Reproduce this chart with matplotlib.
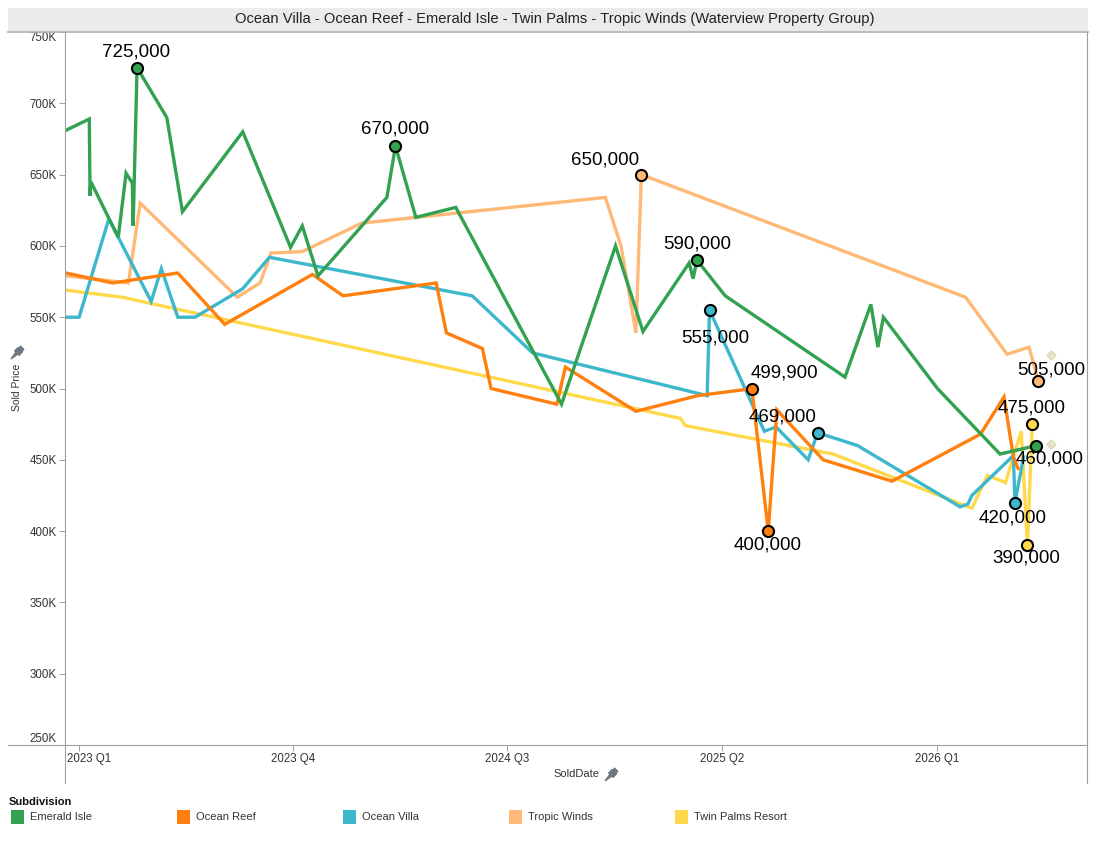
import matplotlib
matplotlib.use("Agg")
import matplotlib.pyplot as plt
import matplotlib.transforms as mtransforms
import pandas as pd
from matplotlib.patches import Rectangle
from matplotlib.lines import Line2D
from matplotlib.path import Path

plt.rcParams['font.family'] = ['Liberation Sans', 'DejaVu Sans']

# ---- data ----
subdivisions = ["Emerald Isle", "Ocean Reef", "Ocean Villa", "Tropic Winds", "Twin Palms Resort"]
colors = ["#32a251", "#ff7f0f", "#3cb7cc", "#ffb977", "#ffd94a"]

emerald_dates = ["2022-12-15", "2023-01-14", "2023-01-15", "2023-01-16", "2023-02-20", "2023-03-02",
                 "2023-03-10", "2023-03-11", "2023-03-16", "2023-04-23", "2023-05-13", "2023-07-29",
                 "2023-09-28", "2023-10-13", "2023-11-02", "2024-01-29", "2024-02-09", "2024-03-06",
                 "2024-04-26", "2024-09-08", "2024-11-16", "2024-12-21", "2025-02-18", "2025-02-23",
                 "2025-02-28", "2025-04-05", "2025-09-05", "2025-10-08", "2025-10-17", "2025-10-24",
                 "2026-01-01", "2026-03-22", "2026-05-07"]
emerald_prices = [681000, 689000, 635000, 645000, 606000, 651000,
                  644000, 614000, 725000, 690000, 624000, 680000,
                  599000, 614000, 579000, 634000, 670000, 620000,
                  627000, 489000, 600000, 540000, 588000, 577000,
                  590000, 565000, 508000, 559000, 529000, 550000,
                  500000, 454000, 460000]

reef_dates = ["2022-12-15", "2023-02-13", "2023-05-07", "2023-07-06", "2023-10-26", "2023-12-04",
              "2024-04-01", "2024-04-14", "2024-05-30", "2024-06-10", "2024-09-02", "2024-09-13",
              "2024-12-12", "2025-03-01", "2025-05-09", "2025-05-30", "2025-06-10", "2025-08-08",
              "2025-11-04", "2026-02-25", "2026-03-27", "2026-04-08", "2026-04-14"]
reef_prices = [581000, 574000, 581000, 545000, 580000, 565000,
               574000, 539000, 528000, 500000, 489000, 515000,
               484000, 495000, 499900, 400000, 485000, 450000,
               435000, 468000, 494000, 452000, 444000]

villa_dates = ["2022-12-15", "2023-01-01", "2023-02-08", "2023-04-03", "2023-04-16", "2023-05-07",
               "2023-05-29", "2023-07-29", "2023-09-01", "2024-05-17", "2024-08-02", "2025-03-13",
               "2025-03-16", "2025-05-25", "2025-06-09", "2025-07-20", "2025-08-01", "2025-09-21",
               "2026-01-30", "2026-02-09", "2026-02-14", "2026-04-08", "2026-04-10", "2026-04-21"]
villa_prices = [550000, 550000, 619000, 561000, 584000, 550000,
                550000, 570000, 592000, 565000, 525000, 495000,
                555000, 470000, 473000, 450000, 469000, 460000,
                417000, 419000, 425000, 453000, 420000, 452000]

winds_dates = ["2022-12-15", "2023-03-05", "2023-03-20", "2023-07-22", "2023-08-20", "2023-09-03",
               "2023-10-13", "2023-12-28", "2024-11-03", "2024-11-23", "2024-12-12", "2024-12-19",
               "2026-02-06", "2026-03-31", "2026-04-28", "2026-05-10"]
winds_prices = [579000, 574000, 630000, 564000, 574000, 595000,
                596000, 616000, 634000, 600000, 539000, 650000,
                564000, 524000, 529000, 505000]

palms_dates = ["2022-12-15", "2023-02-25", "2025-02-07", "2025-02-13", "2025-08-21", "2026-02-14",
               "2026-03-06", "2026-03-29", "2026-04-18", "2026-04-26", "2026-05-02"]
palms_prices = [569000, 564000, 479000, 474000, 454000, 416000,
                439000, 434000, 470000, 390000, 475000]

all_dates = [emerald_dates, reef_dates, villa_dates, winds_dates, palms_dates]
all_prices = [emerald_prices, reef_prices, villa_prices, winds_prices, palms_prices]

label_values = {
    "Emerald Isle": [725000, 670000, 590000, 460000],
    "Ocean Reef": [499900, 400000],
    "Ocean Villa": [555000, 469000, 420000],
    "Tropic Winds": [650000, 505000],
    "Twin Palms Resort": [475000, 390000],
}

trend_dates = ["2026-05-26", "2026-05-26"]
trend_prices = [523500, 461000]

quarter_ticks = ["2023-01-01", "2023-10-01", "2024-07-01", "2025-04-01", "2026-01-01"]
price_ticks = [250000, 300000, 350000, 400000, 450000, 500000, 550000, 600000, 650000, 700000, 750000]

# label offsets in pixels (style, not data)
label_offsets = {
    ("Emerald Isle", 725000): (-1, 16), ("Emerald Isle", 670000): (0, 17),
    ("Emerald Isle", 590000): (0, 16), ("Emerald Isle", 460000): (14, -13),
    ("Ocean Reef", 499900): (33, 16), ("Ocean Reef", 400000): (-1, -14),
    ("Ocean Villa", 555000): (6, -28), ("Ocean Villa", 469000): (-35, 16),
    ("Ocean Villa", 420000): (-2, -15),
    ("Tropic Winds", 650000): (-36, 15), ("Tropic Winds", 505000): (13, 11),
    ("Twin Palms Resort", 475000): (-1, 16), ("Twin Palms Resort", 390000): (-1, -13),
}

W, H = 1100, 850
fig = plt.figure(figsize=(W / 100, H / 100), dpi=100)
ax = fig.add_axes([65 / W, 105 / H, 1022 / W, 713 / H])

# draw order: yellow at the bottom, green on top
order = [4, 3, 2, 1, 0]
for i in order:
    d = pd.to_datetime(all_dates[i])
    ax.plot(d, all_prices[i], color=colors[i], lw=2.4, solid_joinstyle='miter', zorder=2 + (4 - i) * 0.1)

ax.scatter(pd.to_datetime(trend_dates), trend_prices, marker='D', s=22, color='#e6e4c8',
           edgecolors='#cfcda8', linewidths=0.6, zorder=3)

for i, name in enumerate(subdivisions):
    d = pd.to_datetime(all_dates[i])
    for v in label_values[name]:
        k = all_prices[i].index(v)
        ax.plot(d[k], v, 'o', ms=8, mfc=colors[i], mec='black', mew=1.5, zorder=5)
        dx, dy = label_offsets[(name, v)]
        ax.annotate(f"{v:,}", (d[k], v), xytext=(dx, dy), textcoords='offset pixels',
                    ha='center', va='center', fontsize=13.5, color='black', zorder=6)

ax.set_xlim(pd.Timestamp("2022-12-14"), pd.Timestamp("2026-07-11"))
ax.set_ylim(250000, 750000)

qt = pd.to_datetime(quarter_ticks)
ax.set_xticks(qt)
ax.set_xticklabels([f"{t.year} Q{(t.month - 1) // 3 + 1}" for t in qt], fontsize=8.3, color='#333333')
ax.set_yticks(price_ticks)
ax.set_yticklabels([f"{p // 1000}K" for p in price_ticks], fontsize=8.3, color='#333333')
ax.tick_params(axis='both', length=4, width=0.7, color='#a0a0a0', pad=2)

ylabs = ax.get_yticklabels()
ylabs[0].set_verticalalignment('bottom')
ylabs[-1].set_verticalalignment('top')
xl0 = ax.get_xticklabels()[0]
xl0.set_horizontalalignment('left')
xl0.set_transform(xl0.get_transform() + mtransforms.ScaledTranslation(-12 / 100, 0, fig.dpi_scale_trans))

for s in ['top', 'right', 'left', 'bottom']:
    ax.spines[s].set_visible(False)


def fline(x0, y0, x1, y1, c='#a0a0a0', lw=0.8):
    fig.add_artist(Line2D([x0 / W, x1 / W], [1 - y0 / H, 1 - y1 / H], transform=fig.transFigure,
                          color=c, lw=lw))


# title bar
fig.add_artist(Rectangle((8 / W, 1 - 31 / H), 1080 / W, 23 / H, transform=fig.transFigure,
                         facecolor='#ebebed', edgecolor='none'))
fig.text(555 / W, 1 - 19 / H, "Ocean Villa - Ocean Reef - Emerald Isle - Twin Palms - Tropic Winds (Waterview Property Group)",
         ha='center', va='center', fontsize=10.6, color='#222222')
fline(8, 32, 1088, 32, c='#b0b0b0', lw=1.2)
fline(65, 32, 65, 783)
fline(1087, 32, 1087, 783)
fline(8, 745, 1087, 745)

fig.text(17 / W, 1 - 387 / H, "Sold Price", rotation=90, ha='center', va='center', fontsize=7.5, color='#333333')
fig.text(576 / W, 1 - 774 / H, "SoldDate", ha='center', va='center', fontsize=8, color='#333333')

# small pin icons next to the axis titles
pin = Path([(-1.0, -1.0), (-0.1, 0.25), (0.25, -0.1), (-1.0, -1.0),
            (-0.45, 0.25), (0.25, -0.45), (0.75, 0.05), (0.05, 0.75), (-0.45, 0.25),
            (0.1, 0.6), (0.6, 0.1), (1.0, 0.5), (0.5, 1.0), (0.1, 0.6)],
           [Path.MOVETO, Path.LINETO, Path.LINETO, Path.CLOSEPOLY,
            Path.MOVETO, Path.LINETO, Path.LINETO, Path.LINETO, Path.CLOSEPOLY,
            Path.MOVETO, Path.LINETO, Path.LINETO, Path.LINETO, Path.CLOSEPOLY])
for px, py in [(17, 352), (611, 774)]:
    fig.add_artist(Line2D([px / W], [1 - py / H], transform=fig.transFigure, marker=pin, ms=9,
                          color='#6f7782', mec='#6f7782', lw=0))

# legend
fig.text(9 / W, 1 - 802 / H, "Subdivision", ha='left', va='center', fontsize=8, fontweight='bold', color='#111111')
leg_x = [11, 177, 343, 509, 675]
for i, name in enumerate(subdivisions):
    fig.add_artist(Rectangle((leg_x[i] / W, 1 - 824 / H), 13 / W, 14 / H, transform=fig.transFigure,
                             facecolor=colors[i], edgecolor='none'))
    fig.text((leg_x[i] + 19) / W, 1 - 817 / H, name, ha='left', va='center', fontsize=8, color='#333333')

fig.savefig("out.png", dpi=100)
